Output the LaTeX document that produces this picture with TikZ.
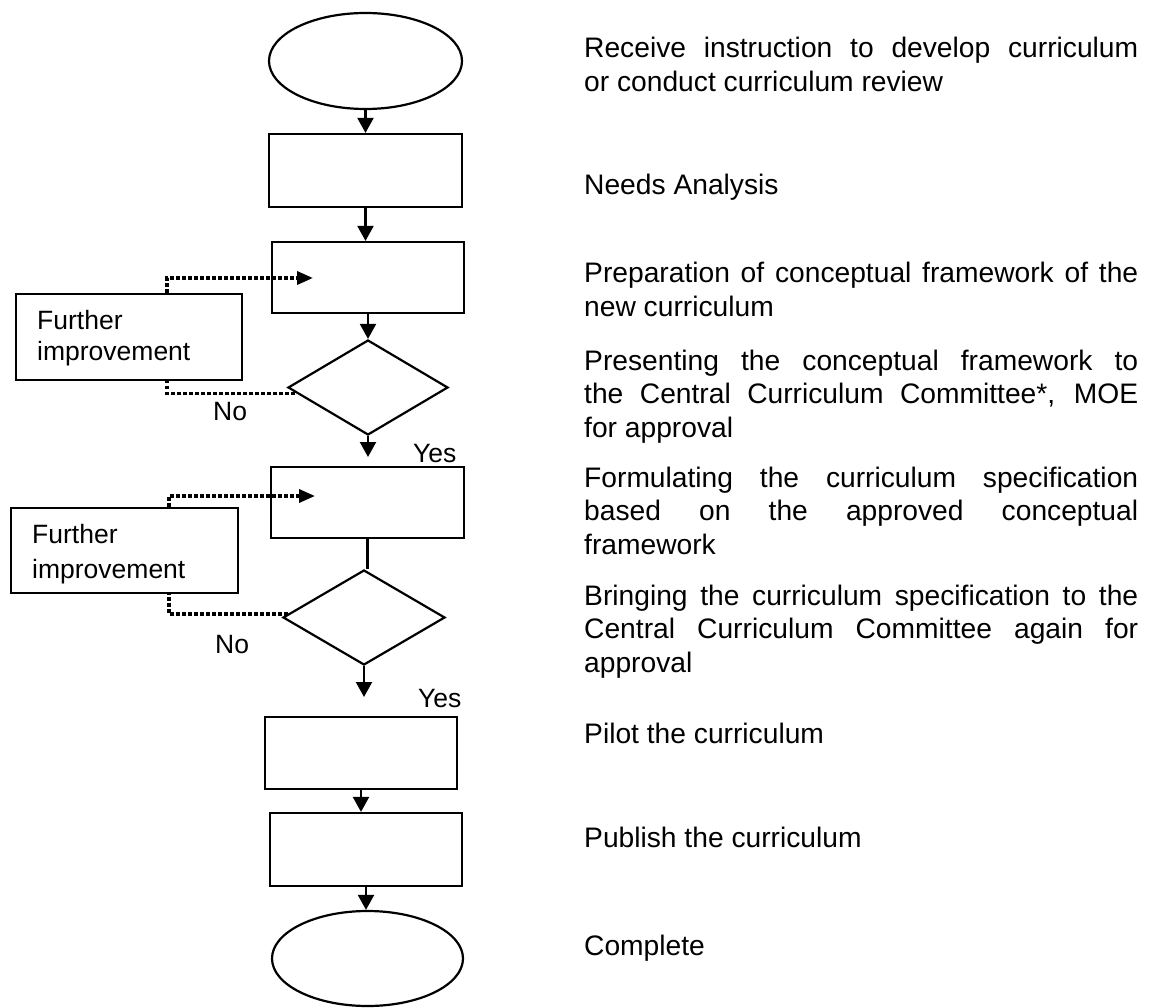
\documentclass[tikz,border=0pt]{standalone}
\usepackage{fontspec}
\setmainfont{Liberation Sans}
\usetikzlibrary{arrows.meta,shapes.geometric,calc}
\newcommand{\parablock}[1]{\vtop{\hsize=554pt\parindent=0pt\parskip=0pt\tolerance=10000\hbadness=10000\hyphenpenalty=10000\noindent #1\par}}
\begin{document}
\begin{tikzpicture}[x=1pt,y=-1pt,
  shp/.style={draw, line width=2.2pt, inner sep=0pt, fill=white},
  proc/.style={shp, rectangle},
  term/.style={shp, ellipse},
  dec/.style={shp, diamond},
  arr/.style={line width=2.2pt, -{Triangle[length=15pt,width=16pt]}},
  plain/.style={line width=2.2pt},
  dotline/.style={line width=3.5pt, dash pattern=on 3.5pt off 2.5pt},
  dotarr/.style={dotline, -{Triangle[length=16pt,width=13pt]}},
  lbl/.style={inner sep=0pt, anchor=base west, font=\fontsize{26.5}{30}\selectfont},
  desc/.style={inner sep=0pt, anchor=base west, font=\fontsize{28.2}{33.7}\selectfont}
]
\useasboundingbox (0,0) rectangle (1151,1008);

% main column
\node[term, minimum width=193pt, minimum height=96pt] (e1) at (365.5,61) {};
\node[proc, minimum width=193pt, minimum height=73pt] (r1) at (365.5,170.5) {};
\node[proc, minimum width=192pt, minimum height=71pt] (r2) at (368,277.5) {};
\node[dec, minimum width=160pt, minimum height=95pt] (d1) at (368,387.5) {};
\node[proc, minimum width=193pt, minimum height=71pt] (r3) at (367.5,502.5) {};
\node[dec, minimum width=162pt, minimum height=95pt] (d2) at (364,617.5) {};
\node[proc, minimum width=192pt, minimum height=72pt] (r4) at (361,753) {};
\node[proc, minimum width=192pt, minimum height=73pt] (r5) at (366,849.5) {};
\node[term, minimum width=191pt, minimum height=95pt] (e2) at (367.5,958.5) {};

% side boxes
\node[proc, minimum width=226pt, minimum height=86pt] (f1) at (129,337) {};
\node[proc, minimum width=227pt, minimum height=85pt] (f2) at (124.5,550.5) {};
\node[lbl] (f1a) at (37,330) {Further};
\node[lbl] (f1b) at (37,360) {improvement};
\node[lbl] (f2a) at (32,543) {Further};
\node[lbl] (f2b) at (32,578) {improvement};

% connectors
\coordinate (y1) at (368,457);
\coordinate (y2) at (364,697);
\draw[arr] (e1.south) -- (e1.south |- r1.north);
\draw[arr] (r1.south) -- (r1.south |- r2.north);
\draw[arr] (r2.south) -- (d1.north);
\draw[arr] (d1.south) -- (y1);
\draw[plain] (r3.south) -- (r3.south |- d2.north);
\draw[arr] (d2.south) -- (y2);
\draw[arr] (r4.south) -- (r4.south |- r5.north);
\draw[arr] (r5.south) -- (r5.south |- e2.north);

% loops
\coordinate (t1) at (313,278);
\coordinate (t2) at (315,496);
\draw[dotarr] ([xshift=38pt]f1.north) |- (t1);
\draw[dotline] ([xshift=8pt,yshift=-6pt]d1.west) -| ([xshift=38pt]f1.south);
\draw[dotarr] ([xshift=44.5pt]f2.north) |- (t2);
\draw[dotline] ([xshift=6pt,yshift=3.5pt]d2.west) -| ([xshift=44.5pt]f2.south);

% branch labels
\node[lbl] (no1) at (213,420) {No};
\node[lbl] (no2) at (215,653) {No};
\node[lbl] (yes1) at (413,462) {Yes};
\node[lbl] (yes2) at (418,707) {Yes};

% descriptions
\node[desc] (t_a) at (584,58) {\parablock{Receive instruction to develop curriculum\linebreak or conduct curriculum review}};
\node[desc] (t_b) at (584,195) {\parablock{Needs Analysis}};
\node[desc] (t_c) at (584,283) {\parablock{Preparation of conceptual framework of the\linebreak new curriculum}};
\node[desc] (t_d) at (584,370) {\parablock{Presenting the conceptual framework to\linebreak the Central Curriculum Committee*, MOE\linebreak for approval}};
\node[desc] (t_e) at (584,487) {\parablock{Formulating the curriculum specification\linebreak based on the approved conceptual\linebreak framework}};
\node[desc] (t_f) at (584,605) {\parablock{Bringing the curriculum specification to the\linebreak Central Curriculum Committee again for\linebreak approval}};
\node[desc] (t_g) at (584,743) {\parablock{Pilot the curriculum}};
\node[desc] (t_h) at (584,847) {\parablock{Publish the curriculum}};
\node[desc] (t_i) at (584,955) {\parablock{Complete}};
\end{tikzpicture}
\end{document}
